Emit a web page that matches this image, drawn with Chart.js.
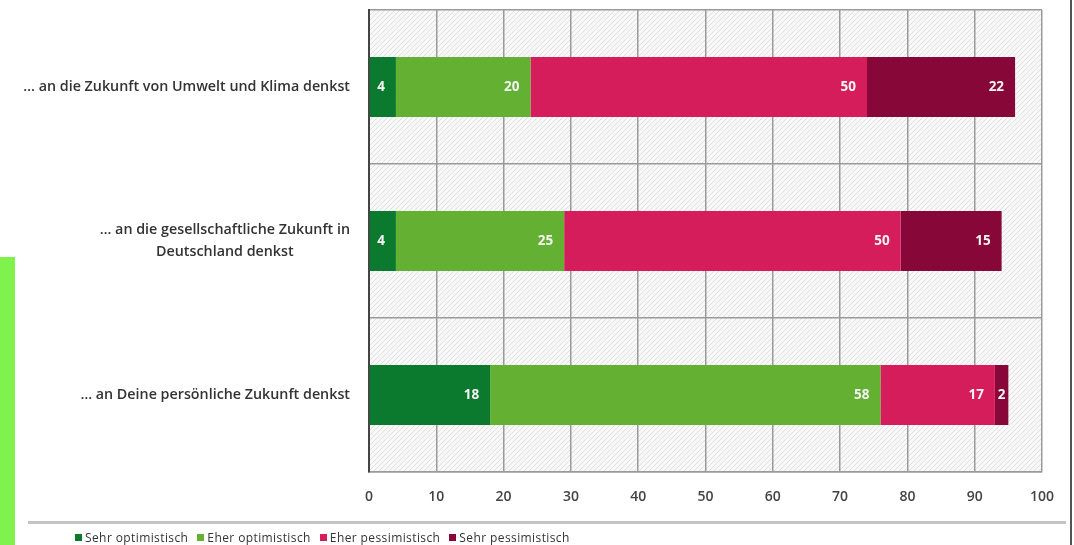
<!DOCTYPE html>
<html>
<head>
<meta charset="utf-8">
<script src="https://cdn.jsdelivr.net/npm/chart.js@4"></script>
<style>
  html, body { margin: 0; padding: 0; background: #fff; }
  body { width: 1074px; height: 545px; position: relative; overflow: hidden; font-family: 'Open Sans', sans-serif; }
  #wrap { position: absolute; left: 0; top: 0; width: 1074px; height: 545px; }
  #edge { position: absolute; left: 0; top: 0; width: 13px; height: 257px; background: #fff; }
  #strip { position: absolute; left: 0; top: 257px; width: 15px; height: 288px; background: #7ff24e; }
  #rule { position: absolute; left: 28px; top: 521px; width: 1038px; height: 3px; background: #c4c4c4; }
  #frame { position: absolute; left: 1070px; top: 0; width: 2px; height: 545px; background: #555; }
  #legend { position: absolute; left: 75px; top: 529px; display: flex; gap: 9px; font-size: 12px; letter-spacing: 0.4px; color: #333; }
  #legend span.item { display: flex; align-items: center; }
  #legend i { display: inline-block; width: 7px; height: 7px; margin-right: 3px; }
</style>
</head>
<body>
<div id="wrap"><canvas id="future" width="1074" height="545"></canvas></div>
<div id="edge"></div>
<div id="strip"></div>
<div id="rule"></div>
<div id="frame"></div>
<div id="legend"></div>
<script>
const questions = [
  ['… an die Zukunft von Umwelt und Klima denkst'],
  ['… an die gesellschaftliche Zukunft in', 'Deutschland denkst'],
  ['… an Deine persönliche Zukunft denkst']
];
const seriesNames = ['Sehr optimistisch', 'Eher optimistisch', 'Eher pessimistisch', 'Sehr pessimistisch'];
const seriesColors = ['#0b7a2f', '#64b032', '#d61d5b', '#870738'];
const sehrOptimistisch = [4, 4, 18];
const eherOptimistisch = [20, 25, 58];
const eherPessimistisch = [50, 50, 17];
const sehrPessimistisch = [22, 15, 2];
const xTicks = [0, 10, 20, 30, 40, 50, 60, 70, 80, 90, 100];

const seriesValues = [sehrOptimistisch, eherOptimistisch, eherPessimistisch, sehrPessimistisch];

Chart.defaults.font.family = "'Open Sans', sans-serif";

// light diagonal hatching behind the bars
function hatchPattern(ctx) {
  const c = document.createElement('canvas');
  c.width = 5; c.height = 5;
  const p = c.getContext('2d');
  p.fillStyle = '#f8f8f8';
  p.fillRect(0, 0, 5, 5);
  p.strokeStyle = '#e0e0e0';
  p.lineWidth = 1;
  p.beginPath();
  p.moveTo(0, 5); p.lineTo(5, 0);
  p.moveTo(-2.5, 2.5); p.lineTo(2.5, -2.5);
  p.moveTo(2.5, 7.5); p.lineTo(7.5, 2.5);
  p.stroke();
  return ctx.createPattern(c, 'repeat');
}

const hatch = {
  id: 'hatch',
  beforeDraw(chart) {
    const { ctx, chartArea: a } = chart;
    ctx.save();
    ctx.fillStyle = hatchPattern(ctx);
    ctx.fillRect(a.left, a.top, a.right - a.left, a.bottom - a.top);
    ctx.restore();
  }
};

// question texts: right-aligned block, lines centred inside it
const questionLabels = {
  id: 'questionLabels',
  afterDraw(chart) {
    const { ctx } = chart;
    const y = chart.scales.y;
    ctx.save();
    ctx.font = "600 14.3px 'Open Sans', sans-serif";
    ctx.fillStyle = '#333';
    ctx.textBaseline = 'middle';
    ctx.textAlign = 'center';
    const right = chart.chartArea.left - 19;
    const lh = 22;
    questions.forEach((lines, i) => {
      const w = Math.max(...lines.map(l => ctx.measureText(l).width));
      const cx = right - w / 2;
      const cy = y.getPixelForValue(i);
      lines.forEach((l, k) => {
        ctx.fillText(l, cx, cy + (k - (lines.length - 1) / 2) * lh);
      });
    });
    ctx.restore();
  }
};

// value labels near the end of each segment
const valueLabels = {
  id: 'valueLabels',
  afterDatasetsDraw(chart) {
    const { ctx } = chart;
    ctx.save();
    ctx.font = "bold 13.5px 'Open Sans', sans-serif";
    ctx.fillStyle = '#f4f4f4';
    ctx.textBaseline = 'middle';
    chart.data.datasets.forEach((ds, di) => {
      chart.getDatasetMeta(di).data.forEach((bar, i) => {
        const w = bar.x - bar.base;
        if (w < 22) {
          ctx.textAlign = 'center';
          ctx.fillText(ds.data[i], bar.base + w / 2, bar.y);
        } else {
          ctx.textAlign = 'right';
          ctx.fillText(ds.data[i], bar.x - 11, bar.y);
        }
      });
    });
    ctx.restore();
  }
};

new Chart(document.getElementById('future'), {
  type: 'bar',
  data: {
    labels: questions,
    datasets: seriesNames.map((name, i) => ({
      label: name,
      data: seriesValues[i],
      backgroundColor: seriesColors[i],
      barPercentage: 0.39,
      categoryPercentage: 1
    }))
  },
  options: {
    indexAxis: 'y',
    responsive: false,
    animation: false,
    layout: { padding: { left: 0, top: 10, right: 32, bottom: 0 } },
    plugins: { legend: { display: false }, tooltip: { enabled: false } },
    scales: {
      x: {
        stacked: true,
        min: 0,
        max: 100,
        afterBuildTicks: s => { s.ticks = xTicks.map(v => ({ value: v })); },
        grid: { color: '#9a9a9a', lineWidth: 1.5, drawTicks: false },
        border: { color: '#9a9a9a', width: 1.5 },
        ticks: { padding: 17, color: '#444', font: { size: 14, weight: '600' } },
        afterFit: s => { s.height = 73; }
      },
      y: {
        stacked: true,
        grid: { color: '#9a9a9a', lineWidth: 1.5, drawTicks: false, offset: true },
        border: { color: '#444', width: 2 },
        ticks: { display: false },
        afterFit: s => { s.width = 369; }
      }
    }
  },
  plugins: [hatch, valueLabels, questionLabels]
});

const legend = document.getElementById('legend');
seriesNames.forEach((name, i) => {
  const item = document.createElement('span');
  item.className = 'item';
  item.innerHTML = '<i style="background:' + seriesColors[i] + '"></i>' + name;
  legend.appendChild(item);
});
</script>
</body>
</html>
